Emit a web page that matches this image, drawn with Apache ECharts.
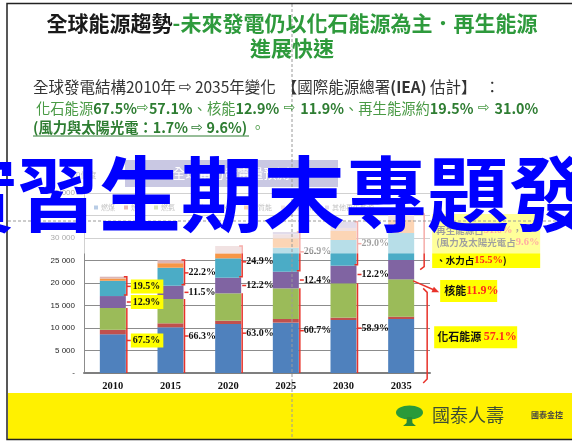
<!DOCTYPE html>
<html>
<head>
<meta charset="utf-8">
<title>全球能源趨勢</title>
<style>
  html, body { margin: 0; padding: 0; background: #fff; }
  #chart { width: 572px; height: 442px; }
</style>
</head>
<body>
<div id="chart"></div>
<script src="https://cdn.jsdelivr.net/npm/echarts@6/dist/echarts.min.js"></script>
<script>
// 全球發電量 (10億度)，依 IEA 估計
var years = ['2010', '2015', '2020', '2025', '2030', '2035'];
var coal = [8600, 10150, 10890, 11190, 11780, 12000];
var oil = [1000, 890, 740, 810, 520, 520];
var gas = [4850, 5400, 6070, 6810, 7630, 8290];
var nuclear = [2650, 2960, 3480, 3700, 3920, 4300];
var hydro = [3400, 4000, 4300, 5330, 5710, 6000];
var bio = [500, 1000, 1120, 2090, 2000, 2890];
var solar = [400, 700, 1620, 900, 670, 1200];
var otherRe = [0, 0, 0, 500, 1400, 1000];

var fossilPct = ['67.5%', '66.3%', '63.0%', '60.7%', '58.9%', '57.1%'];
var nuclearPct = ['12.9%', '11.5%', '12.2%', '12.4%', '12.2%', '11.9%'];
var renewPct = ['19.5%', '22.2%', '24.9%', '26.9%', '29.0%', '31.0%'];
var windSolarPct = '9.6%';
var hydroPct = '15.5%';

var CJK = '"Noto Sans CJK TC", sans-serif';
var SERIF = '"Liberation Serif", "Noto Sans CJK TC", serif';
var ARROW = '"DejaVu Sans", sans-serif';
var red = '#e8322a';

var myChart = echarts.init(document.getElementById('chart'));

var stackDefs = [
	['燃煤', coal, '#4f81bd'],
	['燃油', oil, '#c0504d'],
	['燃氣', gas, '#9bbb59'],
	['核能', nuclear, '#8064a2'],
	['水力', hydro, '#4bacc6'],
	['生質能', bio, '#f79646'],
	['太陽光電', solar, '#dcb6b6'],
	['其他再生能源', otherRe, '#b7a8cc']
];

var series = stackDefs.map(function(d) {
	return {
		name: d[0],
		type: 'bar',
		stack: 'gen',
		barWidth: 26,
		silent: true,
		itemStyle: { color: d[2] },
		data: d[1]
	};
});

// 每年的累計高度：化石、化石+核能、總量
var notes = years.map(function(y, i) {
	var f = coal[i] + oil[i] + gas[i];
	var n = f + nuclear[i];
	var t = n + hydro[i] + bio[i] + solar[i] + otherRe[i];
	return [i, f, n, t];
});

function drawNotes(params, api) {
	var i = params.dataIndex;
	var base = api.coord([api.value(0), 0]);
	var yF = api.coord([api.value(0), api.value(1)])[1];
	var yN = api.coord([api.value(0), api.value(2)])[1];
	var yT = api.coord([api.value(0), api.value(3)])[1];
	var xr = base[0] + 14;
	var y0 = base[1];
	var mF = (y0 + yF) / 2, mN = (yF + yN) / 2, mR = (yN + yT) / 2;
	var kids = [];

	function seg(pts, w) {
		kids.push({ type: 'polyline', shape: { points: pts }, style: { stroke: red, lineWidth: w || 1.5, fill: 'none' } });
	}
	function tag(x, y, txt, bg) {
		kids.push({
			type: 'text', x: x, y: y,
			style: {
				text: txt, font: 'bold 10px ' + SERIF, fill: '#111',
				align: 'left', verticalAlign: 'middle',
				backgroundColor: bg || 'transparent', padding: bg ? [2, 3, 2, 2] : 0
			}
		});
	}
	function box(x, y, w, h) {
		kids.push({ type: 'rect', shape: { x: x, y: y, width: w, height: h }, style: { fill: '#ffff00' } });
	}
	function rich(x, y, txt, size) {
		kids.push({
			type: 'text', x: x, y: y,
			style: {
				text: txt, align: 'left', verticalAlign: 'middle',
				rich: {
					k: { fill: '#111', fontSize: size, fontWeight: 'bold', fontFamily: CJK },
					r: { fill: '#ff2a1a', fontSize: size + 1, fontWeight: 'bold', fontFamily: SERIF }
				}
			}
		});
	}

	if (i < years.length - 1) {
		var bg = i === 0 ? '#ffff00' : null;
		seg([[xr, y0], [xr, yF]]);
		seg([[xr, mF], [xr + 4, mF]]);
		seg([[xr, mN], [xr + 4, mN]]);
		seg([[xr - 3, yN - 1], [xr, yN - 1], [xr, yT], [xr - 3, yT]]);
		seg([[xr, mR], [xr + 4, mR]]);
		tag(xr + 4, mF, fossilPct[i], bg);
		tag(xr + 4, mN, nuclearPct[i], bg);
		tag(xr + 4, mR, renewPct[i], bg);
	} else {
		// 2035 說明框
		var bx = xr + 17;
		box(bx, yT + 4, 108, yN + 8 - yT - 4);
		rich(bx + 4, yT + 20, '{k|再生能源占}{r|' + renewPct[i] + '}{k|，}', 9.5);
		rich(bx + 4, yT + 32, '{k|(風力及太陽光電占}{r|' + windSolarPct + '}', 9.5);
		rich(bx + 4, yN, '{k|、水力占}{r|' + hydroPct + '}{k|)}', 9.5);

		box(xr + 25, yN + 20, 57, 22);
		rich(xr + 29, yN + 31, '{k|核能}{r|' + nuclearPct[i] + '}', 11);

		box(xr + 19, mF, 83, 22);
		rich(xr + 22, mF + 11, '{k|化石能源 }{r|' + fossilPct[i] + '}', 11);

		var bx1 = xr + 9, bx2 = xr + 12;
		seg([[bx1 - 4, yT], [bx1, yT + 4], [bx1, mN - 3], [bx1 - 4, mN]]);
		seg([[bx2 - 4, yF + 9], [bx2, yF + 13], [bx2, y0 + 6], [bx2 - 4, y0 + 10]]);

		// 指向核能的箭頭
		seg([[xr - 2, yF + 1.5], [xr + 19, yF + 10.6]]);
		kids.push({
			type: 'polygon',
			shape: { points: [[xr + 24, yF + 12.8], [xr + 16.3, yF + 12.9], [xr + 18.7, yF + 7.4]] },
			style: { fill: red }
		});
	}
	return { type: 'group', children: kids };
}

series.push({
	type: 'custom',
	z: 5,
	silent: true,
	renderItem: drawNotes,
	encode: { x: 0, y: 3 },
	data: notes
});

var option = {
	animation: false,
	backgroundColor: '#fff',
	grid: { left: 84, right: 142, top: 193, bottom: 69 },
	legend: {
		data: stackDefs.map(function(d) { return d[0]; }),
		left: 89, top: 199,
		icon: 'rect', itemWidth: 4, itemHeight: 4, itemGap: 9,
		textStyle: { fontSize: 7, color: '#666', fontFamily: CJK, padding: [0, 0, 0, -2] }
	},
	xAxis: {
		type: 'category',
		data: years,
		axisTick: { show: false },
		axisLine: { lineStyle: { color: '#7f7f7f', width: 2 } },
		axisLabel: { margin: 8, color: '#111', fontSize: 10.5, fontWeight: 'bold', fontFamily: SERIF }
	},
	yAxis: {
		type: 'value',
		min: 0, max: 40000, interval: 5000,
		name: '10億度',
		nameLocation: 'end',
		nameGap: 14,
		nameTextStyle: { fontSize: 8, color: '#666', fontFamily: CJK, align: 'center' },
		axisLine: { show: true, lineStyle: { color: '#8c8c8c' } },
		axisTick: { show: false },
		splitLine: { lineStyle: { color: '#8c8c8c' } },
		axisLabel: {
			margin: 9, fontSize: 8, color: '#262626', fontFamily: '"Liberation Sans", sans-serif',
			formatter: function(v) { return v === 0 ? '-' : (v / 1000) + ' 000'; }
		}
	},
	graphic: [
		// 圖內標題
		{ type: 'rect', shape: { x: 125, y: 160, width: 213, height: 27 }, style: { fill: '#7875b9' }, z: 1 },
		{ type: 'text', x: 231, y: 173.5, z: 2, style: { text: '全球電力發電量預測', font: '13px ' + CJK, fill: '#fff', align: 'center', verticalAlign: 'middle' } },
		// 淡化
		{ type: 'rect', shape: { x: 8, y: 145, width: 564, height: 108.5 }, style: { fill: 'rgba(255,255,255,0.6)' }, z: 50 },
		// 參考虛線
		{ type: 'line', shape: { x1: 292, y1: 4, x2: 292, y2: 439 }, style: { stroke: '#9a9a9a', lineWidth: 1, lineDash: [3, 2] }, z: 60 },
		{ type: 'line', shape: { x1: 8, y1: 221, x2: 572, y2: 221 }, style: { stroke: '#9a9a9a', lineWidth: 1, lineDash: [3, 2] }, z: 60 },
		// 標題
		{
			type: 'text', x: 292, y: 23.5, z: 70,
			style: {
				text: '{k|全球能源趨勢}{g|-未來發電仍以化石能源為主．再生能源}', align: 'center', verticalAlign: 'middle',
				rich: {
					k: { fill: '#1a1a1a', fontSize: 21, fontWeight: 'bold', fontFamily: CJK },
					g: { fill: '#2e9a3c', fontSize: 21, fontWeight: 'bold', fontFamily: CJK }
				}
			}
		},
		{ type: 'text', x: 292, y: 48, z: 70, style: { text: '進展快速', font: 'bold 21px ' + CJK, fill: '#2e9a3c', align: 'center', verticalAlign: 'middle' } },
		{
			type: 'text', x: 33, y: 87.5, z: 70,
			style: {
				text: '{n|全球發電結構2010年}{s| }{a|⇨}{s| }{n|2035年變化}{t| }{n|【國際能源總署}{b|(IEA)}{n| 估計】}{u| }{n|：}',
				align: 'left', verticalAlign: 'middle',
				rich: {
					n: { fill: '#333', fontSize: 15.5, fontFamily: CJK },
					a: { fill: '#333', fontSize: 15.5, fontFamily: ARROW },
					b: { fill: '#333', fontSize: 15.5, fontWeight: 'bold', fontFamily: CJK },
					s: { fontSize: 15.5, width: 3 },
					t: { fontSize: 15.5, width: 6 },
					u: { fontSize: 15.5, width: 8 }
				}
			}
		},
		{
			type: 'text', x: 36, y: 108.5, z: 70,
			style: {
				text: '{n|化石能源}{b|67.5%}{a|⇨}{b|57.1%}{n|、核能}{b|12.9%}{a| ⇨ }{b|11.9%}{n|、再生能源約}{b|19.5%}{a| ⇨ }{b|31.0%}',
				align: 'left', verticalAlign: 'middle',
				rich: {
					n: { fill: '#4a9a45', fontSize: 14.3, fontFamily: CJK },
					a: { fill: '#4a9a45', fontSize: 14.3, fontFamily: ARROW },
					b: { fill: '#2e7d32', fontSize: 14.3, fontWeight: 'bold', fontFamily: CJK }
				}
			}
		},
		{
			type: 'text', x: 33, y: 128, z: 70,
			style: {
				text: '{b|(風力與太陽光電：1.7% }{a|⇨}{b| 9.6%) }{n|。}', align: 'left', verticalAlign: 'middle',
				rich: {
					n: { fill: '#4a9a45', fontSize: 14.3, fontFamily: CJK },
					a: { fill: '#2e7d32', fontSize: 14.3, fontFamily: ARROW },
					b: { fill: '#2e7d32', fontSize: 14.3, fontWeight: 'bold', fontFamily: CJK }
				}
			}
		},
		{ type: 'line', shape: { x1: 33, y1: 136, x2: 249, y2: 136 }, style: { stroke: '#2e7d32', lineWidth: 1 }, z: 70 },
		// 底部黃色色帶與標誌
		{ type: 'rect', shape: { x: 8, y: 393, width: 564, height: 46 }, style: { fill: '#fff100' }, z: 40 },
		{ type: 'ellipse', shape: { cx: 409.5, cy: 412.5, rx: 13.5, ry: 7 }, style: { fill: '#2a9a3a' }, z: 41 },
		{ type: 'polygon', shape: { points: [[407, 417], [412, 417], [412.5, 423], [416, 426], [403, 426], [406.5, 423]] }, style: { fill: '#2a8a34' }, z: 41 },
		{ type: 'text', x: 432, y: 415, z: 41, style: { text: '國泰人壽', font: '18px ' + CJK, fill: '#3d4d33', align: 'left', verticalAlign: 'middle' } },
		{ type: 'text', x: 531, y: 415, z: 41, style: { text: '國泰金控', font: 'bold 8px ' + CJK, fill: '#444', align: 'left', verticalAlign: 'middle' } },
		// 投影片外框
		{ type: 'polyline', shape: { points: [[572, 3.5], [7, 3.5], [7, 439.5], [572, 439.5]] }, style: { stroke: '#222', lineWidth: 1.5, fill: 'none' }, z: 80 },
		// 覆蓋大字
		{ type: 'text', x: -65, y: 194, z: 100, style: { text: '實習生期末專題發表', font: 'bold 82px ' + CJK, fill: '#0000ff', align: 'left', verticalAlign: 'middle' } }
	],
	series: series
};

myChart.setOption(option);
</script>
</body>
</html>
